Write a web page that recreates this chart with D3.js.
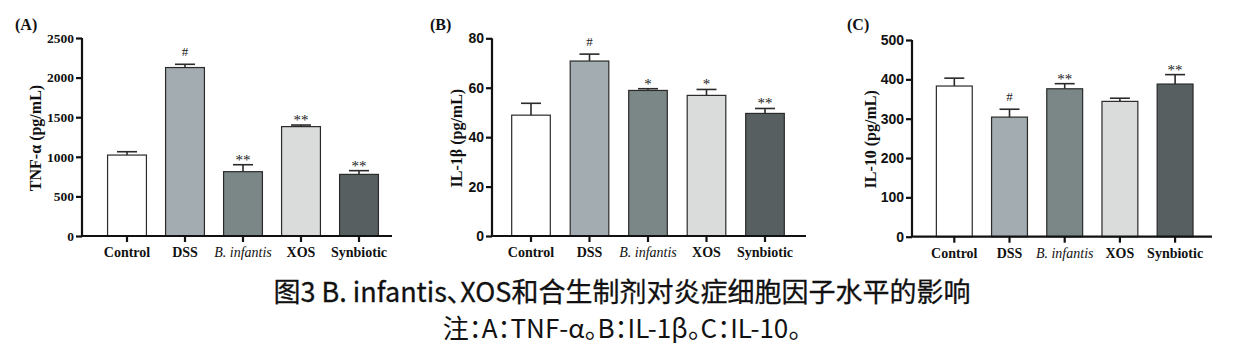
<!DOCTYPE html>
<html lang="en">
    <head>
        <meta charset="utf-8">
        <title>Cytokines</title>
        <script type="text/javascript" src="https://d3js.org/d3.v7.min.js"></script>
    </head>
	<style>
		body { margin: 0; background: #fff; }
		svg { display: block; }
	</style>
    <body>

        <script type="text/javascript">

			var w = 1245,
				h = 360;

			// groups
			var groups = ["Control", "DSS", "B. infantis", "XOS", "Synbiotic"];
			var barColors = ["#ffffff", "#a3acb0", "#7b8686", "#d9dcdb", "#585f61"];

			// TNF-a
			var tnfMean = [1022, 2127, 812, 1381, 778];
			var tnfErr  = [1064, 2168, 900, 1401, 825];
			var tnfSig  = ["", "#", "**", "**", "**"];
			var tnfTicks = [0, 500, 1000, 1500, 2000, 2500];

			// IL-1b
			var il1Mean = [48.9, 70.8, 58.9, 56.9, 49.6];
			var il1Err  = [53.7, 73.6, 59.6, 59.3, 51.6];
			var il1Sig  = ["", "#", "*", "*", "**"];
			var il1Ticks = [0, 20, 40, 60, 80];

			// IL-10
			var il10Mean = [383, 304, 376, 344, 388];
			var il10Err  = [403, 324, 389, 352, 412];
			var il10Sig  = ["", "#", "**", "", "**"];
			var il10Ticks = [0, 100, 200, 300, 400, 500];

			var serif = "'Liberation Serif', 'Times New Roman', serif",
				sans = "'Liberation Sans', Arial, sans-serif";

			var panels = [
				{tag: "(A)", label: "TNF-α (pg/mL)", mean: tnfMean, err: tnfErr, sig: tnfSig, ticks: tnfTicks,
				 axisX: 82, axisEnd: 392, y0: 236, y1: 38, range: [98, 388], pad: 0.33, tickFont: serif, tickSize: 13.5,
				 tagX: 15, labelX: 35},
				{tag: "(B)", label: "IL-1β (pg/mL)", mean: il1Mean, err: il1Err, sig: il1Sig, ticks: il1Ticks,
				 axisX: 492, axisEnd: 806, y0: 236, y1: 38.3, range: [501.75, 794.25], pad: 0.34, tickFont: sans, tickSize: 14,
				 tagX: 430, labelX: 456},
				{tag: "(C)", label: "IL-10 (pg/mL)", mean: il10Mean, err: il10Err, sig: il10Sig, ticks: il10Ticks,
				 axisX: 912, axisEnd: 1212, y0: 236.7, y1: 40, range: [926.7, 1202.7], pad: 0.35, tickFont: sans, tickSize: 14,
				 tagX: 847, labelX: 870}
			];

			var svg = d3.select("body")
						.append("svg")
						.attr("width", w)
						.attr("height", h);

			panels.forEach(function(p) {
				var g = svg.append("g");

				var x = d3.scaleBand()
						.domain(groups)
						.range(p.range)
						.paddingInner(p.pad)
						.paddingOuter(p.pad / 2);

				var y = d3.scaleLinear()
						.domain([0, d3.max(p.ticks)])
						.range([p.y0, p.y1]);

				var data = groups.map(function(d, i) {
					return {name: d, mean: p.mean[i], err: p.err[i], sig: p.sig[i], color: barColors[i]};
				});

				// bars
				g.selectAll("rect.bar")
					.data(data)
					.enter()
					.append("rect")
					.attr("class", "bar")
					.attr("x", function(d) { return x(d.name); })
					.attr("width", x.bandwidth())
					.attr("y", function(d) { return y(d.mean); })
					.attr("height", function(d) { return y(0) - y(d.mean); })
					.attr("fill", function(d) { return d.color; })
					.attr("stroke", "#2a2a2a")
					.attr("stroke-width", 1.2);

				// error bars (upper only)
				var eb = g.selectAll("g.err")
					.data(data)
					.enter()
					.append("g")
					.attr("class", "err")
					.attr("stroke", "#2a2a2a")
					.attr("stroke-width", 1.6);

				eb.append("line")
					.attr("x1", function(d) { return x(d.name) + x.bandwidth() / 2; })
					.attr("x2", function(d) { return x(d.name) + x.bandwidth() / 2; })
					.attr("y1", function(d) { return y(d.mean); })
					.attr("y2", function(d) { return y(d.err); });

				eb.append("line")
					.attr("x1", function(d) { return x(d.name) + x.bandwidth() / 2 - 10; })
					.attr("x2", function(d) { return x(d.name) + x.bandwidth() / 2 + 10; })
					.attr("y1", function(d) { return y(d.err); })
					.attr("y2", function(d) { return y(d.err); });

				// significance marks
				g.selectAll("text.sig")
					.data(data.filter(function(d) { return d.sig !== ""; }))
					.enter()
					.append("text")
					.attr("class", "sig")
					.attr("x", function(d) { return x(d.name) + x.bandwidth() / 2; })
					.attr("y", function(d) { return y(d.err) - (d.sig === "#" ? 8 : 0); })
					.attr("text-anchor", "middle")
					.attr("font-family", serif)
					.attr("font-size", function(d) { return d.sig === "#" ? 13 : 15; })
					.attr("fill", "#222")
					.text(function(d) { return d.sig; });

				// y axis
				var yAxis = g.append("g")
					.attr("transform", "translate(" + p.axisX + ",0)")
					.call(d3.axisLeft(y).tickValues(p.ticks).tickSize(6).tickPadding(2).tickFormat(d3.format("d")));
				yAxis.select(".domain").attr("stroke", "#111").attr("stroke-width", 2.2).attr("d", "M0," + p.y0 + "V" + p.y1);
				yAxis.selectAll(".tick line").attr("stroke", "#111").attr("stroke-width", 2.2);
				yAxis.selectAll(".tick text")
					.attr("font-family", p.tickFont)
					.attr("font-weight", "bold")
					.attr("font-size", p.tickSize)
					.attr("fill", "#111");

				// x axis
				var xAxis = g.append("g")
					.attr("transform", "translate(0," + p.y0 + ")")
					.call(d3.axisBottom(x).tickSize(6).tickPadding(5));
				xAxis.select(".domain").attr("stroke", "#111").attr("stroke-width", 2.2).attr("d", "M" + (p.axisX - 1) + ",0H" + p.axisEnd);
				xAxis.selectAll(".tick line").attr("stroke", "#111").attr("stroke-width", 2.2);
				xAxis.selectAll(".tick text")
					.attr("font-family", serif)
					.attr("font-weight", function(d) { return d === "B. infantis" ? "normal" : "bold"; })
					.attr("font-style", function(d) { return d === "B. infantis" ? "italic" : "normal"; })
					.attr("font-size", 14)
					.attr("fill", "#111");

				// y label
				g.append("text")
					.attr("transform", "translate(" + p.labelX + "," + ((p.y0 + p.y1) / 2 + 1) + ") rotate(-90)")
					.attr("text-anchor", "middle")
					.attr("dy", "0.35em")
					.attr("font-family", serif)
					.attr("font-weight", "bold")
					.attr("font-size", 16)
					.attr("fill", "#111")
					.text(p.label);

				// panel tag
				g.append("text")
					.attr("x", p.tagX)
					.attr("y", 30)
					.attr("font-family", serif)
					.attr("font-weight", "bold")
					.attr("font-size", 16)
					.attr("fill", "#111")
					.text(p.tag);
			});

			// caption
			var cjk = "'Noto Sans CJK SC', 'Noto Sans', sans-serif";
			svg.append("text")
				.attr("x", 622)
				.attr("y", 302)
				.attr("text-anchor", "middle")
				.attr("font-family", cjk)
				.attr("font-size", 27)
				.attr("fill", "#111")
				.attr("stroke", "#111")
				.attr("stroke-width", 0.3)
				.style("font-feature-settings", "'palt'")
				.text("图3 B. infantis、XOS和合生制剂对炎症细胞因子水平的影响");

			svg.append("text")
				.attr("x", 622)
				.attr("y", 338)
				.attr("text-anchor", "middle")
				.attr("font-family", cjk)
				.attr("font-size", 26)
				.attr("fill", "#111")
				.style("font-feature-settings", "'palt'")
				.text("注：A：TNF-α。B：IL-1β。C：IL-10。");

        </script>
    </body>
</html>
